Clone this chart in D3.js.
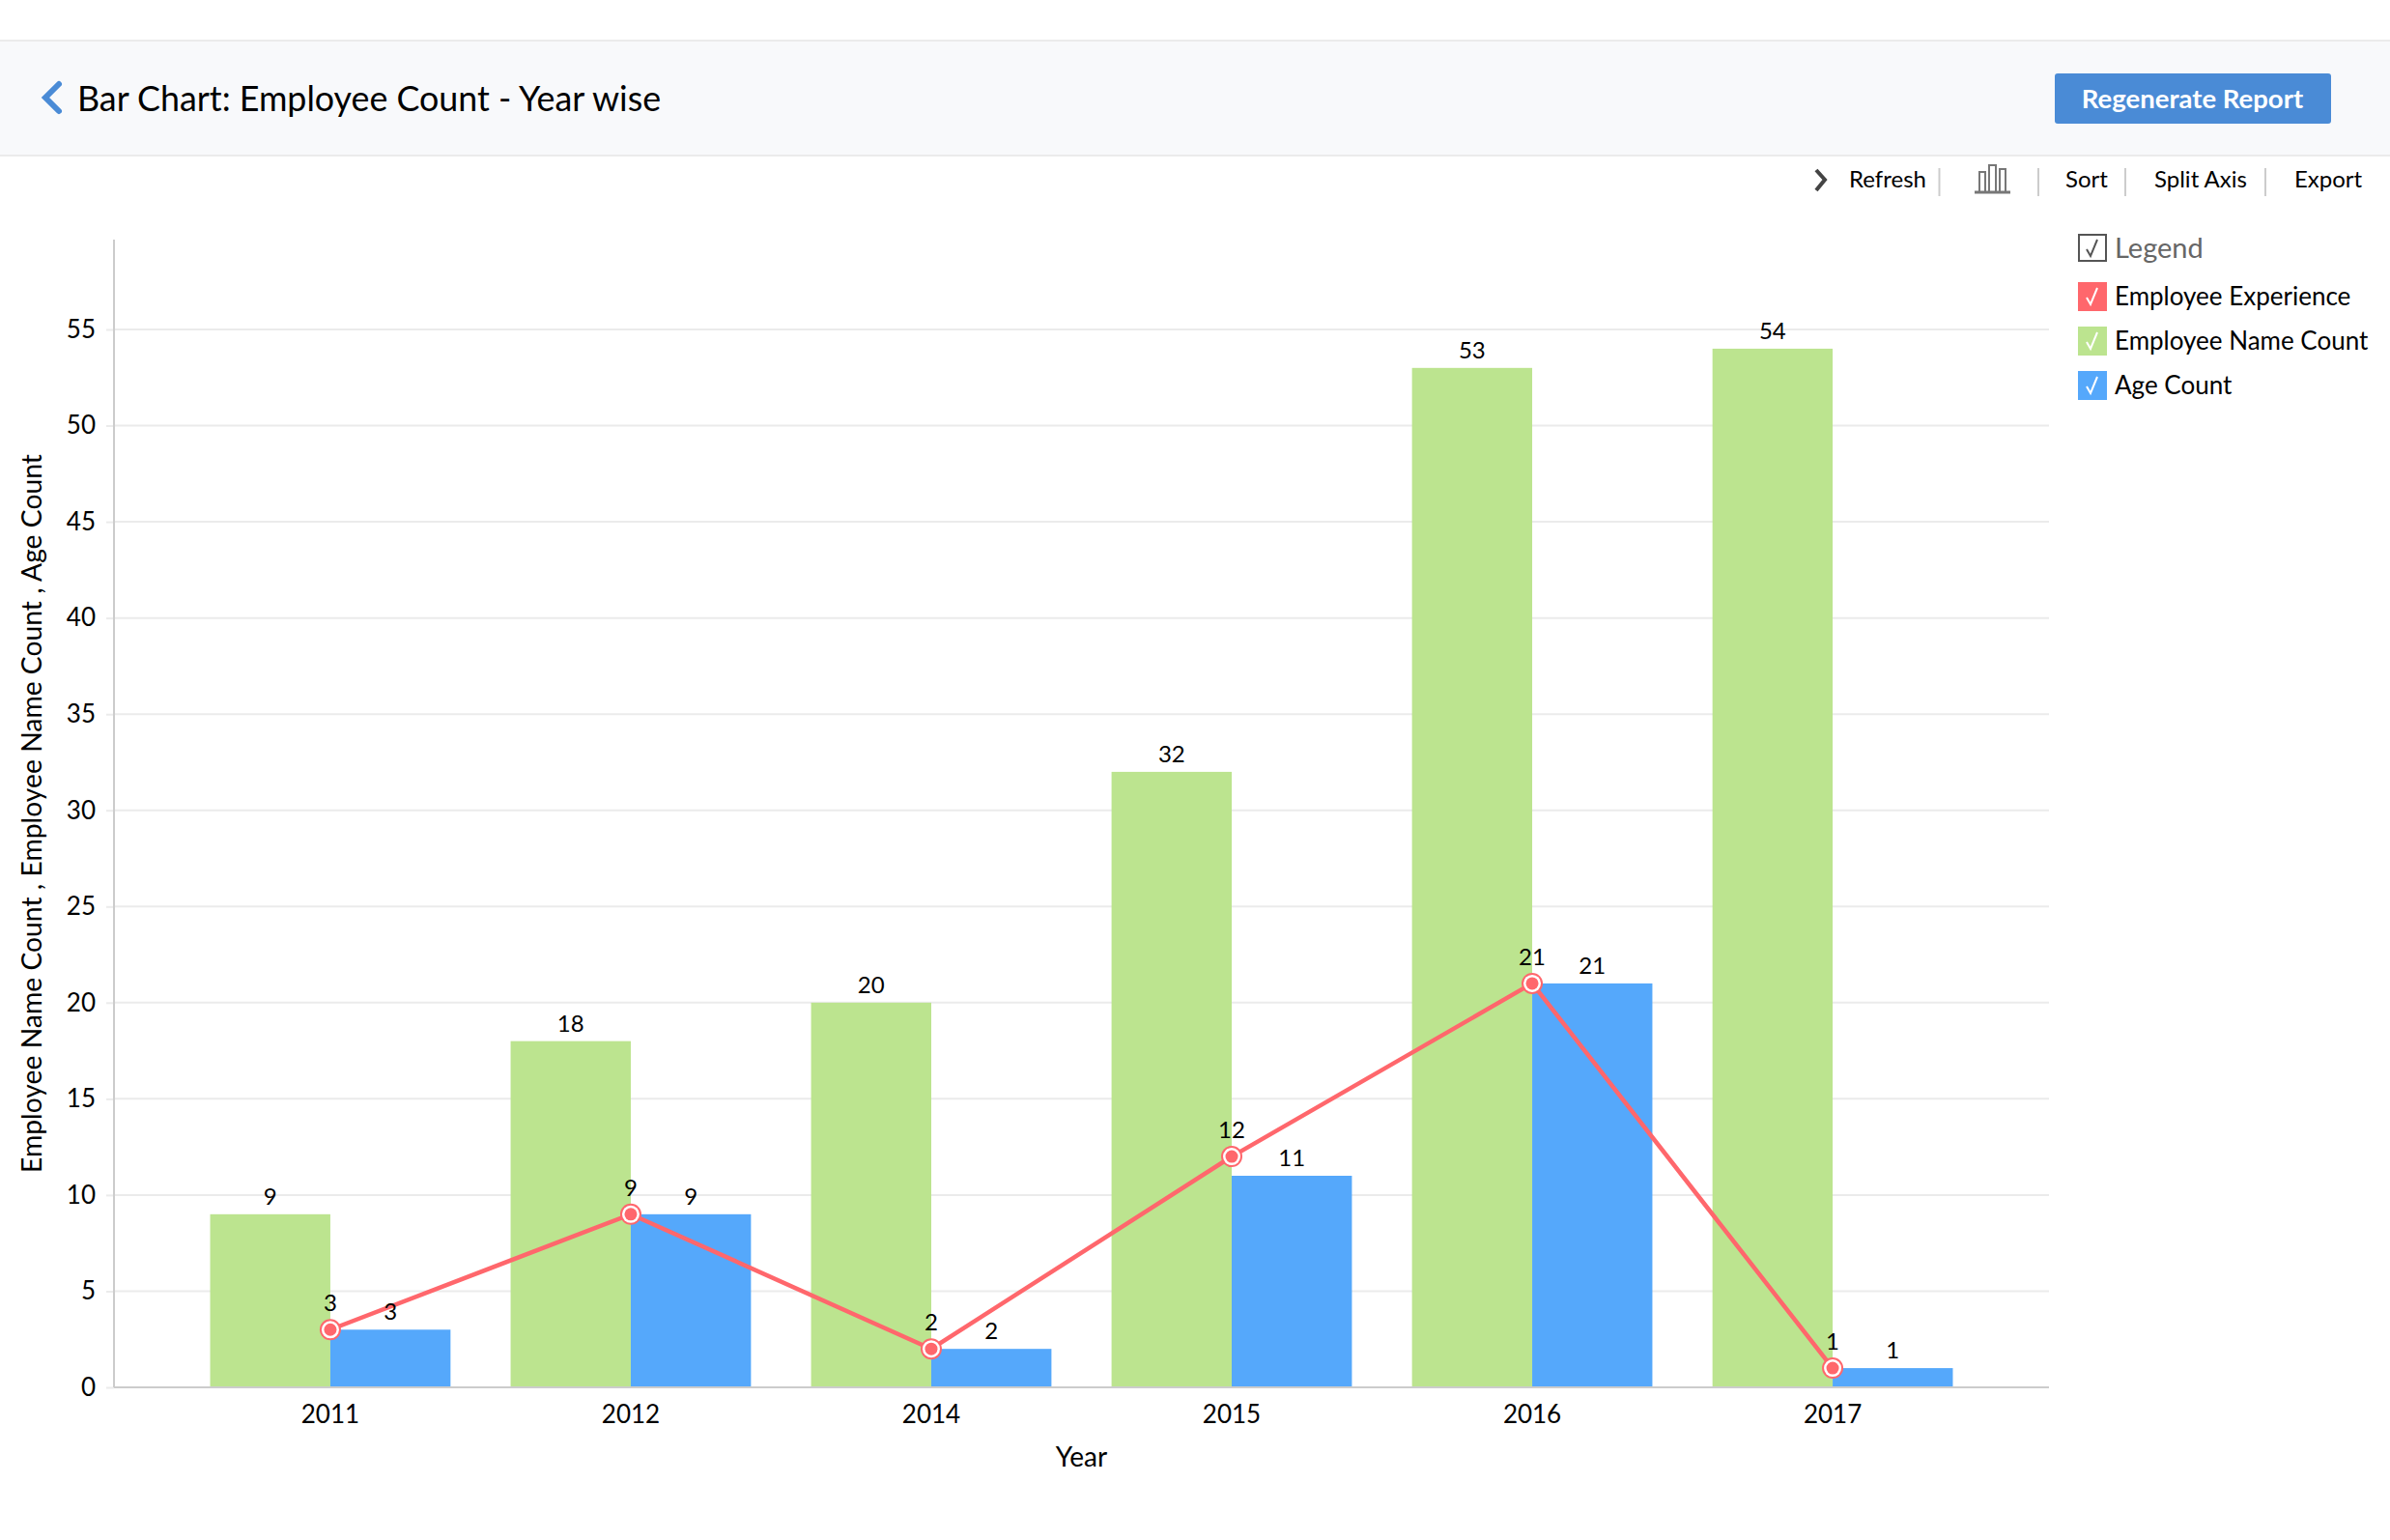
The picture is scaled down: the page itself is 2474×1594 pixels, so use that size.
<!DOCTYPE html>
<html>
<head>
<meta charset="utf-8">
<script src="https://cdnjs.cloudflare.com/ajax/libs/d3/7.8.5/d3.min.js"></script>
<style>
  html, body { margin: 0; padding: 0; background: #fff; }
  text { font-family: "Lato", sans-serif; fill: #000; }
  .tick text { font-size: 26px; }
  .lbl { font-size: 24px; text-anchor: middle; }
</style>
</head>
<body>
<div id="chart"></div>
<script>
var years = ['2011', '2012', '2014', '2015', '2016', '2017'];
var nameCount = [9, 18, 20, 32, 53, 54];
var ageCount = [3, 9, 2, 11, 21, 1];
var experience = [3, 9, 2, 12, 21, 1];
var yTicks = [0, 5, 10, 15, 20, 25, 30, 35, 40, 45, 50, 55];
var legendNames = ['Employee Experience', 'Employee Name Count', 'Age Count'];
var toolbarItems = ['Refresh', 'Sort', 'Split Axis', 'Export'];

var red = '#ff676c', green = '#bce48f', blue = '#55a8fb', btnBlue = '#4a8bd6';
var width = 2474, height = 1594;

var svg = d3.select('#chart').append('svg')
  .attr('width', width).attr('height', height)
  .style('display', 'block');

// header strip
svg.append('rect').attr('x', 0).attr('y', 42).attr('width', width).attr('height', 119)
  .attr('fill', '#f8f9fb');
[42, 161].forEach(function(yy) {
  svg.append('line').attr('x1', 0).attr('x2', width).attr('y1', yy).attr('y2', yy)
    .attr('stroke', '#ebebeb').attr('stroke-width', 2);
});
svg.append('path').attr('d', 'M61,87 L47,101 L61,115')
  .attr('fill', 'none').attr('stroke', btnBlue).attr('stroke-width', 6).attr('stroke-linecap', 'round');
svg.append('text').attr('x', 80).attr('y', 115)
  .style('font-size', '35.8px').text('Bar Chart: Employee Count - Year wise');

svg.append('rect').attr('x', 2127).attr('y', 76).attr('width', 286).attr('height', 52)
  .attr('rx', 3).attr('fill', btnBlue);
svg.append('text').attr('x', 2269.5).attr('y', 112).attr('text-anchor', 'middle')
  .style('font-size', '27.5px').style('font-weight', 700).style('fill', '#fff').text('Regenerate Report');

// toolbar
svg.append('path').attr('d', 'M1880,176 L1889,186 L1880,197')
  .attr('fill', 'none').attr('stroke', '#444').attr('stroke-width', 4);
var toolbarX = [1914, 2138, 2230, 2375];
svg.selectAll('.tool').data(toolbarItems).enter().append('text')
  .attr('class', 'tool')
  .attr('x', function(d, i) { return toolbarX[i]; })
  .attr('y', 194)
  .style('font-size', '24px')
  .text(function(d) { return d; });
svg.selectAll('.sep').data([2007.5, 2110, 2200, 2345]).enter().append('line')
  .attr('class', 'sep')
  .attr('x1', function(d) { return d; }).attr('x2', function(d) { return d; })
  .attr('y1', 174).attr('y2', 203)
  .attr('stroke', '#ccc').attr('stroke-width', 2);
svg.append('path')
  .attr('d', 'M2049,198 V178 H2055 V198 M2059,198 V171 H2066 V198 M2070,198 V175 H2076 V198')
  .attr('fill', 'none').attr('stroke', '#777').attr('stroke-width', 2);
svg.append('line').attr('x1', 2044).attr('x2', 2081).attr('y1', 199).attr('y2', 199)
  .attr('stroke', '#777').attr('stroke-width', 3);

// scales
var axisLeft = 118, axisRight = 2121, axisTop = 248;
var x = d3.scaleBand().domain(years).range([axisLeft, axisRight]).paddingInner(0).paddingOuter(0.22);
var y = d3.scaleLinear().domain([0, 55]).range([1436, 341]);
var barW = x.step() * 0.4;
var center = function(i) { return x(years[i]) + x.bandwidth() / 2; };

// gridlines + axes
var yAxis = svg.append('g').attr('transform', 'translate(' + axisLeft + ',0)')
  .call(d3.axisLeft(y).tickValues(yTicks).tickSize(8).tickPadding(11));
yAxis.select('.domain').remove();
yAxis.selectAll('.tick line').attr('stroke', '#ebebeb').attr('stroke-width', 2);

svg.append('g').selectAll('line').data(yTicks.slice(1)).enter().append('line')
  .attr('x1', axisLeft).attr('x2', axisRight)
  .attr('y1', function(d) { return y(d); }).attr('y2', function(d) { return y(d); })
  .attr('stroke', '#ebebeb').attr('stroke-width', 2);

// bars
svg.append('g').selectAll('rect').data(nameCount).enter().append('rect')
  .attr('x', function(d, i) { return center(i) - barW; })
  .attr('y', function(d) { return y(d); })
  .attr('width', barW)
  .attr('height', function(d) { return y(0) - y(d); })
  .attr('fill', green);
svg.append('g').selectAll('rect').data(ageCount).enter().append('rect')
  .attr('x', function(d, i) { return center(i); })
  .attr('y', function(d) { return y(d); })
  .attr('width', barW)
  .attr('height', function(d) { return y(0) - y(d); })
  .attr('fill', blue);

svg.append('line').attr('x1', axisLeft).attr('x2', axisLeft).attr('y1', axisTop).attr('y2', y(0))
  .attr('stroke', '#ccc').attr('stroke-width', 2);

var xAxis = svg.append('g').attr('transform', 'translate(0,' + y(0) + ')')
  .call(d3.axisBottom(x).tickSize(0).tickPadding(19));
xAxis.select('.domain').attr('stroke', '#ccc').attr('stroke-width', 2)
  .attr('d', 'M' + axisLeft + ',0H' + axisRight);

// line + markers
var line = d3.line()
  .x(function(d, i) { return center(i); })
  .y(function(d) { return y(d); });
svg.append('path').datum(experience).attr('d', line)
  .attr('fill', 'none').attr('stroke', red).attr('stroke-width', 4.5);
var marks = svg.append('g').selectAll('g').data(experience).enter().append('g')
  .attr('transform', function(d, i) { return 'translate(' + center(i) + ',' + y(d) + ')'; });
marks.append('circle').attr('r', 11).attr('fill', red);
marks.append('circle').attr('r', 9).attr('fill', '#fff');
marks.append('circle').attr('r', 6.5).attr('fill', red);

// value labels
svg.append('g').selectAll('text').data(nameCount).enter().append('text')
  .attr('class', 'lbl')
  .attr('x', function(d, i) { return center(i) - barW / 2; })
  .attr('y', function(d) { return y(d) - 10; })
  .text(function(d) { return d; });
svg.append('g').selectAll('text').data(ageCount).enter().append('text')
  .attr('class', 'lbl')
  .attr('x', function(d, i) { return center(i) + barW / 2; })
  .attr('y', function(d) { return y(d) - 10; })
  .text(function(d) { return d; });
svg.append('g').selectAll('text').data(experience).enter().append('text')
  .attr('class', 'lbl')
  .attr('x', function(d, i) { return center(i); })
  .attr('y', function(d) { return y(d) - 19; })
  .text(function(d) { return d; });

// axis titles
svg.append('text').attr('x', 1119.5).attr('y', 1518).attr('text-anchor', 'middle')
  .style('font-size', '28px').text('Year');
svg.append('text').attr('transform', 'translate(43,842) rotate(-90)').attr('text-anchor', 'middle')
  .style('font-size', '28.3px').text('Employee Name Count , Employee Name Count , Age Count');

// legend
var check = function(g, cx, cy, color) {
  g.append('path')
    .attr('d', 'M' + (cx - 6) + ',' + (cy + 1) + ' L' + (cx - 2) + ',' + (cy + 8) + ' L' + (cx + 5) + ',' + (cy - 9))
    .attr('fill', 'none').attr('stroke', color).attr('stroke-width', 2);
};
var legendX = 2151;
svg.append('rect').attr('x', legendX + 1).attr('y', 243).attr('width', 28).attr('height', 27)
  .attr('fill', '#fff').attr('stroke', '#555').attr('stroke-width', 2);
check(svg, legendX + 15, 257, '#555');
svg.append('text').attr('x', 2189).attr('y', 267).style('font-size', '29px').style('fill', '#666').text('Legend');

var legendColors = [red, green, blue];
var legendY = [292, 338, 384];
var items = svg.append('g').selectAll('g').data(legendNames).enter().append('g');
items.append('rect').attr('x', legendX)
  .attr('y', function(d, i) { return legendY[i]; })
  .attr('width', 30).attr('height', 30)
  .attr('fill', function(d, i) { return legendColors[i]; });
items.each(function(d, i) { check(d3.select(this), legendX + 15, legendY[i] + 15, '#fff'); });
items.append('text').attr('x', 2189)
  .attr('y', function(d, i) { return legendY[i] + 24; })
  .style('font-size', '26px')
  .text(function(d) { return d; });
</script>
</body>
</html>
